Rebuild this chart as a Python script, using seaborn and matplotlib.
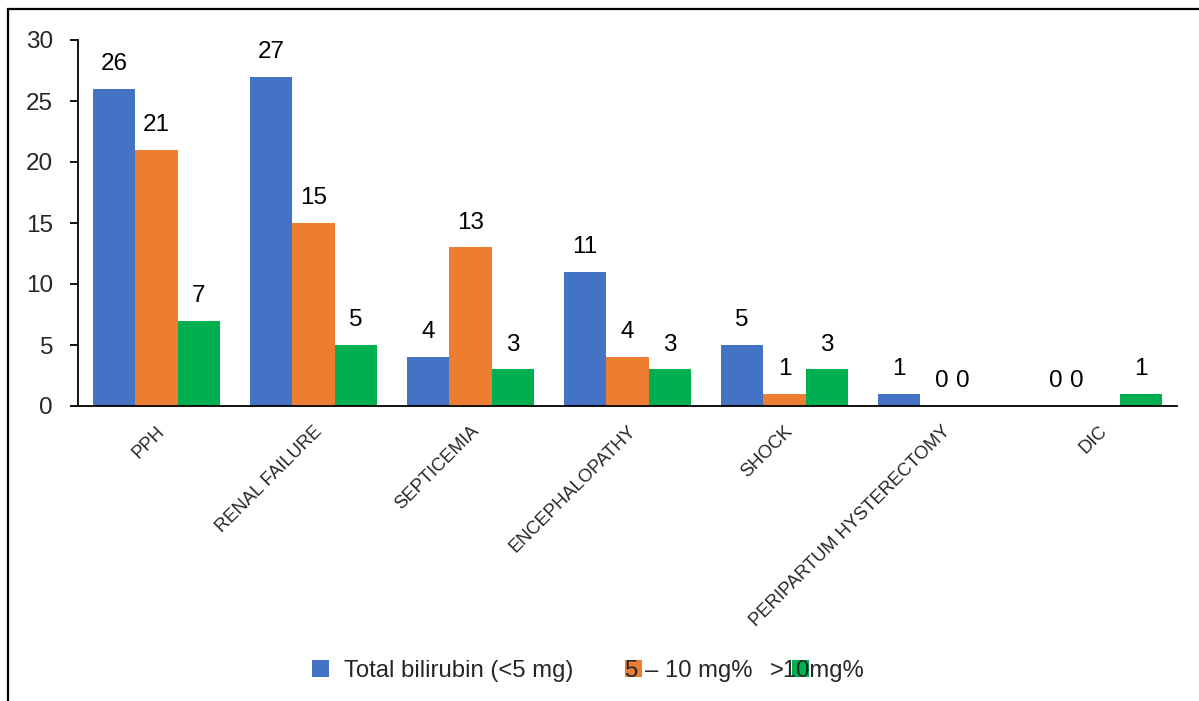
import matplotlib
matplotlib.use("Agg")
import matplotlib.pyplot as plt
import matplotlib.patches as mpatches
import seaborn as sns
import pandas as pd

categories = ["PPH", "RENAL FAILURE", "SEPTICEMIA", "ENCEPHALOPATHY", "SHOCK",
              "PERIPARTUM HYSTERECTOMY", "DIC"]
series_names = ["Total bilirubin (<5 mg)", "5 \u2013 10 mg%", ">10mg%"]
low_vals = [26, 27, 4, 11, 5, 1, 0]
mid_vals = [21, 15, 13, 4, 1, 0, 0]
high_vals = [7, 5, 3, 3, 3, 0, 1]
colors = ["#4472C4", "#ED7D31", "#00B050"]
yticks = [0, 5, 10, 15, 20, 25, 30]

rows = []
for name, vals in zip(series_names, [low_vals, mid_vals, high_vals]):
    for c, v in zip(categories, vals):
        rows.append({"category": c, "series": name, "value": v})
df = pd.DataFrame(rows)

sns.set_theme(style="white")
plt.rcParams["font.family"] = ["Liberation Sans", "DejaVu Sans"]

W, H = 1199, 701
fig = plt.figure(figsize=(W / 100, H / 100), dpi=100)
ax = fig.add_axes([78 / W, 1 - 406 / H, (1177 - 78) / W, (406 - 40) / H])

sns.barplot(data=df, x="category", y="value", hue="series", order=categories,
            hue_order=series_names, palette=colors, width=0.81, saturation=1,
            ax=ax, errorbar=None, linewidth=0)

pad_pts = 10
label_sets = []
for cont in ax.containers:
    label_sets.append(ax.bar_label(cont, fmt="%d", padding=pad_pts,
                                   fontsize=17.5, color="black"))

# Excel-style placement: a zero label that follows another zero label in the
# same category sits close to it rather than at its own bar centre.
all_vals = [low_vals, mid_vals, high_vals]
for i in range(len(categories)):
    for s in range(1, 3):
        if all_vals[s][i] == 0 and all_vals[s - 1][i] == 0:
            label_sets[s][i].xyann = (-15.5, pad_pts)

ax.set_xlim(-0.5, 6.5)
ax.set_ylim(0, 30)
ax.set_yticks(yticks)
ax.tick_params(axis="y", labelsize=17.5, length=6, width=1.3, color="black",
               direction="out", left=True, pad=12)
ax.tick_params(axis="x", length=0, pad=12)
ax.set_xticks(range(len(categories)))
ax.set_xticklabels(categories, rotation=45, ha="right", rotation_mode="anchor",
                   fontsize=13.2)
ax.set_xlabel("")
ax.set_ylabel("")
for s in ["top", "right"]:
    ax.spines[s].set_visible(False)
for s in ["left", "bottom"]:
    ax.spines[s].set_color("black")
    ax.spines[s].set_linewidth(1.3)

handles, labels = ax.get_legend_handles_labels()
ax.get_legend().remove()

fs = 17.2
legend_specs = [
    (312, 0.6),
    (625, -0.72),
    (792, -1.65),
]
for (xpos, pad), h, lab in zip(legend_specs, handles, labels):
    fig.legend([h], [lab], loc="center left",
               bbox_to_anchor=(xpos / W, 1 - 671 / H), frameon=False,
               borderpad=0, borderaxespad=0, handlelength=0.72,
               handleheight=0.72, handletextpad=pad, fontsize=fs)

border = mpatches.Rectangle((8 / W, -0.2), 1.2, 1.2 - 9 / H,
                            transform=fig.transFigure, fill=False,
                            edgecolor="black", linewidth=1.6, clip_on=False)
fig.patches.append(border)

fig.savefig("out.png", dpi=100)
